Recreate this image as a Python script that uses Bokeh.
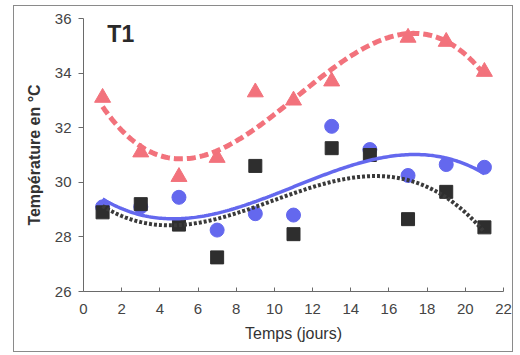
import numpy as np
from bokeh.plotting import figure
from bokeh.models import Label, FixedTicker
from bokeh.embed import file_html
from bokeh.resources import INLINE

days = [1, 3, 5, 7, 9, 11, 13, 15, 17, 19, 21]
red_days = [1, 3, 5, 7, 9, 11, 13, 17, 19, 21]
red_vals = [33.1, 31.1, 30.2, 30.9, 33.3, 33.0, 33.7, 35.3, 35.15, 34.05]
blue_vals = [29.1, 29.1, 29.45, 28.25, 28.85, 28.8, 32.05, 31.2, 30.25, 30.65, 30.55]
black_vals = [28.9, 29.2, 28.45, 27.25, 30.6, 28.1, 31.25, 31.0, 28.65, 29.65, 28.35]
x_ticks = [0, 2, 4, 6, 8, 10, 12, 14, 16, 18, 20, 22]
y_ticks = [26, 28, 30, 32, 34, 36]

RED = "#F2727C"
BLUE = "#6468EE"
BLACK = "#2E2E2E"

p = figure(width=500, height=347, x_range=(0, 22), y_range=(26, 36),
           output_backend="svg", toolbar_location=None,
           min_border_left=69, min_border_right=11, min_border_top=12, min_border_bottom=62,
           margin=(5, 0, 0, 13), styles={"border": "1px solid #8a8a8a"})
p.outline_line_color = None
p.grid.visible = False
p.background_fill_color = "white"

for ax in (p.xaxis[0], p.yaxis[0]):
    ax.axis_line_color = "#6a6a6a"
    ax.major_tick_line_color = "#6a6a6a"
    ax.minor_tick_line_color = None
    ax.major_label_text_font = "Liberation Sans"
    ax.major_label_text_font_size = "15px"
    ax.major_label_text_color = "#444444"
    ax.axis_label_text_font = "Liberation Sans"
    ax.axis_label_text_color = "#333333"
    ax.axis_label_text_font_style = "normal"

p.xaxis.ticker = FixedTicker(ticks=x_ticks)
p.yaxis.ticker = FixedTicker(ticks=y_ticks)
p.xaxis.major_tick_in = 4
p.xaxis.major_tick_out = 0
p.yaxis.major_tick_in = 0
p.yaxis.major_tick_out = 5
p.xaxis.axis_label = "Temps (jours)"
p.yaxis.axis_label = "Température en °C"
p.xaxis.axis_label_text_font_size = "16px"
p.yaxis.axis_label_text_font_size = "16px"
p.yaxis.axis_label_text_font_style = "bold"
p.xaxis.major_label_standoff = 12
p.yaxis.major_label_standoff = 7
p.xaxis.axis_label_standoff = 8
p.yaxis.axis_label_standoff = 9

# markers
p.scatter(red_days, red_vals, marker="triangle", size=16, color=RED)
p.scatter(days, blue_vals, marker="circle", size=14, color=BLUE)
p.scatter(days, black_vals, marker="square", size=13, color=BLACK)

# polynomial (order 3) trend lines fitted to the data
xs = np.linspace(1, 21, 200)
red_fit = np.polyval(np.polyfit(red_days, red_vals, 3), xs)
blue_fit = np.polyval(np.polyfit(days, blue_vals, 3), xs)
black_fit = np.polyval(np.polyfit(days, black_vals, 3), xs)

p.line(xs, black_fit, line_color="#3a3a3a", line_width=4, line_dash="3 2")
p.line(xs, blue_fit, line_color=BLUE, line_width=3.5)
p.line(xs, red_fit, line_color=RED, line_width=5, line_dash="9 4")

p.add_layout(Label(x=1.25, y=35.45, text="T1", text_font="Liberation Sans",
                   text_baseline="alphabetic",
                   text_font_size="23px", text_font_style="bold", text_color="#2a2a2a"))

open("out.html", "w").write(file_html(p, INLINE))
